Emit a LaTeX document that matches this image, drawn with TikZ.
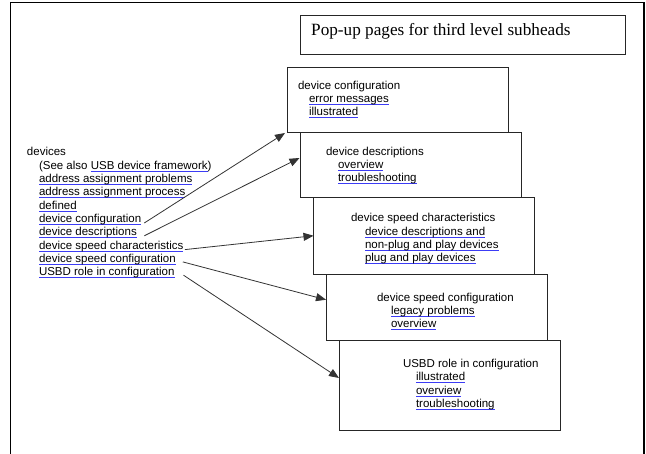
\documentclass[tikz,border=0pt]{standalone}
\usepackage{fontspec}
\setmainfont{Liberation Sans}
\newfontfamily\titlefont{Liberation Serif}
\usetikzlibrary{arrows.meta,calc}
\definecolor{ulblue}{RGB}{60,60,245}
\newsavebox\ulkbox
\newcommand\ulk[1]{\sbox\ulkbox{#1}\rlap{\textcolor{ulblue}{\rule[-2.5pt]{\wd\ulkbox}{1pt}}}\usebox\ulkbox}
\begin{document}
\begin{tikzpicture}[x=1pt,y=-1pt,
  txt/.style={anchor=base west,inner sep=0pt,outer sep=0pt,font=\fontsize{11.5}{13}\selectfont},
  box/.style={draw=black!85,line width=0.9pt,anchor=north west,inner sep=0pt,outer sep=0pt},
  arr/.style={draw=black!80,line width=0.8pt,-{Triangle[length=10pt,width=8pt]}}]
\useasboundingbox (0,0) rectangle (646,454);
% outer frame
\draw[line width=1.2pt] (10.5,454) -- (10.5,2.5) -- (644,2.5) -- (644,454);
% title
\node[box,minimum width=325pt,minimum height=39pt] (title) at (300,15) {};
\node[anchor=base west,inner sep=0pt,font=\titlefont\fontsize{17.2}{20}\selectfont] (tt) at (311,35.5) {Pop-up pages for third level subheads};
% boxes
\node[box,minimum width=221pt,minimum height=65pt] (b1) at (287,67) {};
\node[box,minimum width=220.5pt,minimum height=65pt] (b2) at (300.5,132) {};
\node[box,minimum width=220.5pt,minimum height=77.5pt] (b3) at (313.5,197) {};
\node[box,minimum width=221pt,minimum height=65.5pt] (b4) at (326,274.5) {};
\node[box,minimum width=221pt,minimum height=90pt] (b5) at (339,340) {};
% box texts
\node[txt] (b1h) at (298,90) {device configuration};
\node[txt] (b1a) at (309,103) {\ulk{error messages}};
\node[txt] (b1b) at (309,116) {\ulk{illustrated}};
\node[txt] (b2h) at (326,156) {device descriptions};
\node[txt] (b2a) at (338,169) {\ulk{overview}};
\node[txt] (b2b) at (338,182) {\ulk{troubleshooting}};
\node[txt] (b3h) at (351,222) {device speed characteristics};
\node[txt] (b3a) at (365,235.3) {\ulk{device descriptions and}};
\node[txt] (b3b) at (365,248.6) {\ulk{non-plug and play devices}};
\node[txt] (b3c) at (365,262) {\ulk{plug and play devices}};
\node[txt] (b4h) at (377,302) {device speed configuration};
\node[txt] (b4a) at (391,315) {\ulk{legacy problems}};
\node[txt] (b4b) at (391,328) {\ulk{overview}};
\node[txt] (b5h) at (403,367.7) {USBD role in configuration};
\node[txt] (b5a) at (416,381) {\ulk{illustrated}};
\node[txt] (b5b) at (416,394.3) {\ulk{overview}};
\node[txt] (b5c) at (416,407.7) {\ulk{troubleshooting}};
% left list
\node[txt] (dev) at (27,156) {devices};
\node[txt] (l0) at (39,169.3) {(See also \ulk{USB device framework})};
\node[txt] (l1) at (39,182.6) {\ulk{address assignment problems}};
\node[txt] (l2) at (39,195.9) {\ulk{address assignment process}};
\node[txt] (l3) at (39,209.2) {\ulk{defined}};
\node[txt] (l4) at (39,222.5) {\ulk{device configuration}};
\node[txt] (l5) at (39,235.8) {\ulk{device descriptions}};
\node[txt] (l6) at (39,249.1) {\ulk{device speed characteristics}};
\node[txt] (l7) at (39,262.4) {\ulk{device speed configuration}};
\node[txt] (l8) at (39,275.7) {\ulk{USBD role in configuration}};
% arrows
\draw[arr] ([xshift=3pt,yshift=-0.5pt]l4.base east) -- ([xshift=-2pt,yshift=-1pt]b1.south west);
\draw[arr] ([xshift=7.5pt,yshift=0pt]l5.base east) -- ([xshift=-1pt,yshift=6.5pt]b2.west);
\draw[arr] ([xshift=1.5pt,yshift=-0.5pt]l6.base east) -- (b3.west);
\draw[arr] ([xshift=7pt,yshift=0.5pt]l7.base east) -- ([yshift=7.5pt]b4.west);
\draw[arr] ([xshift=9pt,yshift=0.5pt]l8.base east) -- ([yshift=7pt]b5.west);
\end{tikzpicture}
\end{document}
